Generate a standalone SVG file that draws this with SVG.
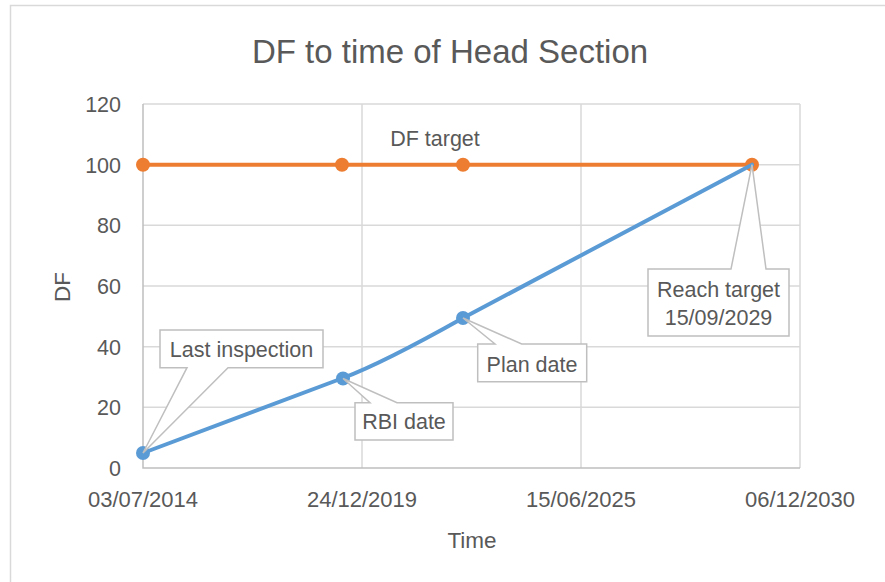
<svg xmlns="http://www.w3.org/2000/svg" width="885" height="582" viewBox="0 0 885 582">
<style>
text{font-family:"Liberation Sans",Arial,sans-serif;fill:#595959}
.grid{stroke:#d9d9d9;stroke-width:1.5;fill:none}
.axis{stroke:#bfbfbf;stroke-width:1.5;fill:none}
.tick{font-size:21.5px}
.date{font-size:22px;text-anchor:middle}
.lbl{font-size:21.5px;text-anchor:middle}
.call{fill:#ffffff;stroke:#bfbfbf;stroke-width:1.5}
.blue{stroke:#5b9bd5;stroke-width:4;fill:none;stroke-linejoin:round;stroke-linecap:round}
.orange{stroke:#ed7d31;stroke-width:4;fill:none}
</style>
<rect x="0" y="0" width="885" height="582" fill="#ffffff"/>
<rect x="10.5" y="5.5" width="900" height="600" fill="#ffffff" stroke="#d9d9d9" stroke-width="1.5"/>
<text x="450" y="63" style="font-size:33px" text-anchor="middle">DF to time of Head Section</text>
<g id="grid">
<path class="grid" d="M143,104H800M143,164.7H800M143,225.3H800M143,286H800M143,346.7H800M143,407.3H800M362,104V468M581,104V468M800,104V468"/>
<path class="axis" d="M143,104V468H800"/>
</g>
<g id="y-ticks" class="tick" text-anchor="end">
<text x="121" y="112">120</text>
<text x="121" y="172.5">100</text>
<text x="121" y="233">80</text>
<text x="121" y="294">60</text>
<text x="121" y="354.5">40</text>
<text x="121" y="415">20</text>
<text x="121" y="476">0</text>
</g>
<g id="x-ticks">
<text class="date" x="143" y="507">03/07/2014</text>
<text class="date" x="362" y="507">24/12/2019</text>
<text class="date" x="581" y="507">15/06/2025</text>
<text class="date" x="800" y="507">06/12/2030</text>
</g>
<text x="472" y="548" style="font-size:22.5px" text-anchor="middle">Time</text>
<text transform="translate(70,287) rotate(-90)" style="font-size:22.5px" text-anchor="middle">DF</text>
<g id="connectors">
<g id="series-df-target">
<path class="orange" d="M143,164.7H752"/>
<g fill="#ed7d31">
<circle cx="143" cy="164.7" r="7"/>
<circle cx="342" cy="164.7" r="7"/>
<circle cx="463" cy="164.7" r="7"/>
<circle cx="752" cy="164.7" r="7"/>
</g>
</g>
<g id="series-df">
<path class="blue" d="M143,453L343,378Q383,363 463,318L752,164.7"/>
<g fill="#5b9bd5">
<circle cx="143" cy="453" r="7"/>
<circle cx="343" cy="378.5" r="7"/>
<circle cx="463" cy="318" r="7"/>
</g>
</g>
</g>
<text class="lbl" x="435" y="146">DF target</text>
<g id="label-last-inspection">
<path class="call" d="M160,330H323V367.7H228L143,453L187,367.7H160Z"/>
<text class="lbl" x="241.5" y="357">Last inspection</text>
</g>
<g id="label-rbi-date">
<path class="call" d="M355,402.7H370L343,378.5L397,402.7H453V440H355Z"/>
<text class="lbl" x="404" y="429">RBI date</text>
</g>
<g id="label-plan-date">
<path class="call" d="M477.7,344H495L463,318L521.7,344H586.7V381.7H477.7Z"/>
<text class="lbl" x="532" y="371.7">Plan date</text>
</g>
<g id="label-reach-target">
<path class="call" d="M648,269H731L752,164.7L766,269H789V336H648Z"/>
<text class="lbl" x="718.5" y="297">Reach target</text>
<text class="lbl" x="718.5" y="325">15/09/2029</text>
</g>
</svg>
